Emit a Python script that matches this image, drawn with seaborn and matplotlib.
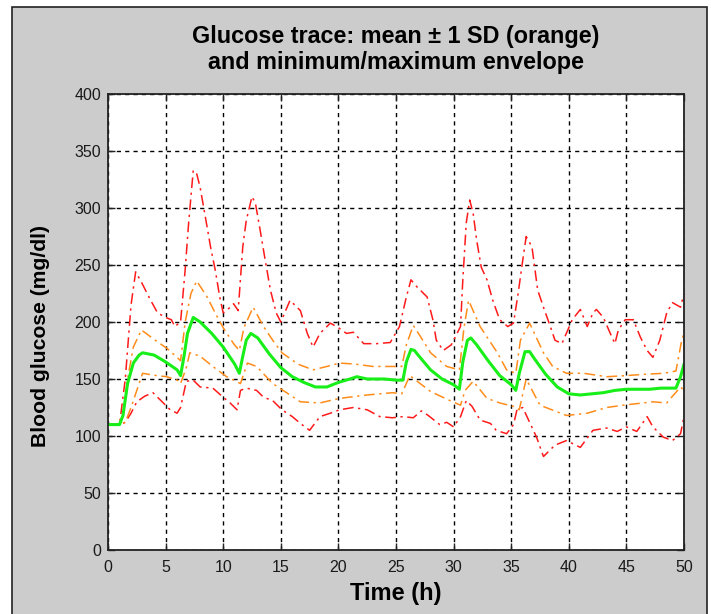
import numpy as np
import pandas as pd
import matplotlib
matplotlib.use("Agg")
import matplotlib.pyplot as plt
from matplotlib.patches import Rectangle
import seaborn as sns

# ---------------- data ----------------
t_mean = [0, 1.0, 1.3, 1.7, 2.2, 2.7, 3.0, 3.5, 4.0, 5.0, 6.0, 6.3, 6.6, 6.9, 7.4, 8.0, 9.0, 10.0,
          11.0, 11.4, 11.7, 12.0, 12.4, 13.0, 14.0, 15.0, 16.0, 17.0, 18.0, 19.0, 20.0, 21.0,
          21.6, 22.5, 24.0, 25.0, 25.6, 25.9, 26.3, 26.6, 27.0, 28.0, 29.0, 30.0, 30.5, 30.8,
          31.2, 31.5, 32.0, 33.0, 34.0, 35.0, 35.4, 35.7, 36.2, 36.6, 37.0, 38.0, 39.0, 40.0,
          41.0, 42.0, 43.0, 44.0, 45.0, 46.0, 47.0, 48.0, 49.0, 49.3, 49.7, 50.0]
glu_mean = [110, 110, 118, 146, 164, 171, 173, 172, 171, 165, 158, 153, 170, 190, 204, 200, 190, 178,
            163, 155, 170, 184, 190, 186, 172, 160, 152, 147, 143, 143, 147, 150,
            152, 150, 150, 149, 149, 165, 176, 175, 170, 158, 150, 145, 141, 165,
            184, 186, 180, 166, 153, 145, 140, 155, 174, 174, 168, 154, 143, 137,
            136, 137, 138, 140, 141, 141, 141, 142, 142, 142, 152, 163]

t_sd_hi = [0, 1.0, 1.3, 1.7, 2.2, 2.9, 4.1, 5.1, 6.0, 6.3, 6.7, 7.2, 7.7, 8.6, 9.3, 10.0, 10.9,
           11.4, 11.8, 12.6, 13.5, 14.3, 15.1, 16.5, 17.8, 19.0, 20.1, 21.5, 23.0, 24.5, 25.5,
           25.9, 26.5, 27.2, 28.0, 29.4, 30.5, 30.9, 31.3, 32.3, 33.8, 34.6, 35.4, 35.8, 36.6,
           37.8, 38.6, 39.8, 41.3, 43.3, 45.0, 46.4, 48.2, 49.3, 49.8, 50.0]
glu_sd_hi = [110, 110, 118, 150, 178, 193, 184, 177, 169, 166, 200, 225, 236, 222, 208, 195, 181,
             175, 195, 213, 196, 184, 173, 163, 158, 161, 164, 163, 161, 161, 161,
             180, 197, 186, 173, 161, 158, 195, 219, 196, 173, 158, 155, 184, 199,
             173, 161, 155, 155, 152, 153, 154, 155, 157, 184, 190]

t_sd_lo = [0, 1.0, 1.5, 2.0, 3.0, 4.2, 5.1, 6.0, 6.3, 6.8, 7.1, 8.0, 9.1, 10.3, 11.5, 12.1, 12.9,
           14.3, 16.1, 16.7, 18.4, 20.1, 22.5, 24.7, 25.5, 26.2, 28.0, 29.7, 30.6, 31.0, 31.7,
           32.9, 34.0, 35.2, 35.7, 36.3, 37.5, 39.8, 41.6, 43.3, 44.7, 47.3, 48.5, 49.7, 50.0]
glu_sd_lo = [110, 110, 112, 125, 155, 153, 152, 149, 146, 160, 173, 170, 161, 152, 146, 164, 161,
             146, 134, 130, 129, 133, 136, 138, 137, 153, 139, 131, 127, 140, 148,
             133, 129, 126, 123, 150, 127, 118, 120, 125, 127, 130, 129, 143, 140]

t_max = [0, 1.0, 1.5, 2.0, 2.4, 2.9, 3.6, 4.3, 5.0, 5.5, 5.8, 6.3, 6.7, 7.0, 7.4, 7.7, 8.0, 8.4,
         8.9, 9.3, 9.7, 10.0, 10.5, 10.9, 11.3, 11.7, 12.0, 12.5, 12.8, 13.2, 13.6, 14.1, 14.6,
         15.0, 15.8, 16.7, 17.3, 17.8, 18.4, 19.3, 20.0, 20.7, 21.3, 22.2, 23.3, 24.5, 25.3,
         25.9, 26.3, 26.8, 27.7, 28.2, 28.5, 29.1, 29.8, 30.6, 30.8, 31.1, 31.4, 31.7, 32.0,
         32.4, 32.9, 33.4, 34.0, 34.7, 35.2, 35.6, 36.0, 36.3, 36.8, 37.3, 37.8, 38.4, 38.8,
         39.4, 40.3, 41.0, 41.6, 42.1, 42.4, 43.0, 43.6, 44.0, 44.3, 44.9, 45.6, 46.2, 46.8,
         47.3, 47.9, 48.5, 49.0, 49.7, 50.0]
glu_max = [110, 110, 150, 215, 244, 235, 221, 208, 204, 202, 196, 200, 246, 287, 333, 330, 318, 295,
           266, 246, 222, 208, 212, 216, 210, 266, 289, 310, 304, 281, 257, 228, 208,
           200, 219, 210, 190, 178, 190, 199, 195, 190, 191, 181, 181, 182, 196,
           222, 237, 231, 222, 202, 184, 175, 180, 196, 237, 287, 307, 295, 272,
           248, 237, 219, 202, 196, 199, 225, 254, 275, 266, 228, 213, 196, 184,
           181, 202, 211, 196, 208, 211, 204, 190, 181, 193, 202, 202, 187, 175,
           169, 184, 208, 217, 213, 225]

t_min = [0, 1.0, 1.5, 2.0, 2.5, 3.2, 3.9, 4.8, 5.4, 6.0, 6.3, 6.8, 7.4, 8.0, 9.1, 10.0, 10.6,
         11.2, 11.5, 12.0, 12.9, 13.5, 14.3, 15.1, 16.0, 16.7, 17.5, 18.4, 19.3, 20.1, 21.3,
         22.5, 23.6, 24.7, 25.6, 26.5, 27.2, 27.8, 28.8, 29.4, 30.0, 30.6, 31.1, 31.6, 32.3,
         33.2, 33.7, 34.6, 35.2, 35.5, 36.0, 36.6, 37.2, 37.8, 38.1, 38.8, 39.8, 41.0, 42.1,
         43.3, 44.2, 45.0, 45.9, 46.8, 47.3, 48.2, 49.0, 49.7, 50.0]
glu_min = [110, 110, 112, 120, 130, 135, 138, 129, 123, 120, 125, 148, 149, 143, 142, 134, 129,
           123, 140, 142, 140, 134, 131, 123, 117, 111, 105, 117, 120, 123, 125,
           123, 117, 116, 117, 116, 122, 118, 110, 112, 108, 117, 131, 126, 114,
           111, 105, 102, 110, 123, 125, 112, 99, 82, 85, 92, 96, 90, 105,
           107, 104, 108, 104, 117, 108, 99, 96, 102, 117]

x_ticks = [0, 5, 10, 15, 20, 25, 30, 35, 40, 45, 50]
y_ticks = [0, 50, 100, 150, 200, 250, 300, 350, 400]

title_line1 = "Glucose trace: mean \u00b1 1 SD (orange)"
title_line2 = "and minimum/maximum envelope"
x_label = "Time (h)"
y_label = "Blood glucose (mg/dl)"

# ---------------- style ----------------
sns.set_theme(style="white")
plt.rcParams["font.family"] = ["Liberation Sans", "DejaVu Sans"]

W, H = 711, 614
fig = plt.figure(figsize=(W / 100, H / 100), dpi=100, facecolor="white")
fig.patches.append(Rectangle((12 / W, -0.02), (707 - 12) / W, 1 - 7 / H + 0.02,
                             transform=fig.transFigure, facecolor="#cccccc",
                             edgecolor="#222222", lw=1.2, zorder=-5))

ax = fig.add_axes([108 / W, 1 - 550 / H, 576 / W, 456 / H])
ax.set_facecolor("white")

dashdot = (0, (7, 3, 1.5, 3))
red = "#ff1a1a"
orange = "#ff8c1a"
green = "#18ee18"

series = [
    (t_max, glu_max, red, dashdot, 1.1),
    (t_min, glu_min, red, dashdot, 1.1),
    (t_sd_hi, glu_sd_hi, orange, dashdot, 1.1),
    (t_sd_lo, glu_sd_lo, orange, dashdot, 1.1),
    (t_mean, glu_mean, green, "-", 2.2),
]
for t, v, c, ls, lw in series:
    df = pd.DataFrame({"t": t, "v": v})
    sns.lineplot(data=df, x="t", y="v", ax=ax, color=c, linestyle=ls, lw=lw,
                 estimator=None, legend=False)

ax.set_xlim(0, 50)
ax.set_ylim(0, 400)
ax.set_xticks(x_ticks)
ax.set_yticks(y_ticks)
ax.grid(True, color="black", linestyle=(0, (3, 3)), lw=1.0)
ax.tick_params(direction="in", length=5, width=1, colors="#222222",
               labelcolor="#1a1a1a", labelsize=11.5,
               top=True, right=True, bottom=True, left=True)
ax.tick_params(axis="x", pad=7)
ax.tick_params(axis="y", pad=5)
for s in ax.spines.values():
    s.set_color("#222222")
    s.set_linewidth(1.3)

ax.set_xlabel(x_label, fontsize=17, fontweight="bold", labelpad=5, color="black")
ax.set_ylabel(y_label, fontsize=15.2, fontweight="bold", color="black")
ax.yaxis.set_label_coords(-0.100, 0.47)

fig.text(396 / W, 1 - 37 / H, title_line1, ha="center", va="center",
         fontsize=16.8, fontweight="bold", color="black")
fig.text(396 / W, 1 - 63 / H, title_line2, ha="center", va="center",
         fontsize=16.8, fontweight="bold", color="black")

fig.savefig("out.png", dpi=100, facecolor=fig.get_facecolor())
